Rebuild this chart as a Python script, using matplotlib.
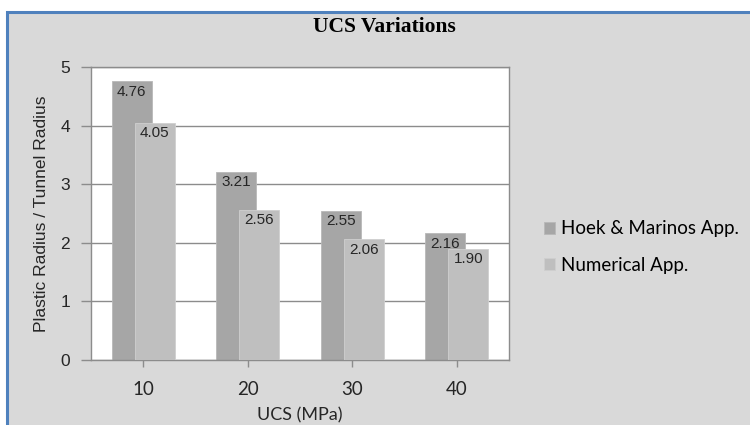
import matplotlib.pyplot as plt
import matplotlib.patches as patches
import numpy as np

categories = ['10', '20', '30', '40']
hoek_marinos = [4.76, 3.21, 2.55, 2.16]
numerical = [4.05, 2.56, 2.06, 1.90]
series_names = ['Hoek & Marinos App.', 'Numerical App.']
y_ticks = [0, 1, 2, 3, 4, 5]


def main():
    fig = plt.figure(figsize=(7.5, 4.25), dpi=100)
    fig.patch.set_facecolor('white')

    # grey chart area with blue frame
    W, H = 750.0, 425.0
    frame = patches.Rectangle((7 / W, -0.05), 1.1, 1 - 12 / H + 0.05,
                              transform=fig.transFigure, facecolor='#d9d9d9',
                              edgecolor='#4f81bd', linewidth=2.2, zorder=-5)
    fig.patches.append(frame)

    ax = fig.add_axes((91 / W, 65 / H, 418 / W, 293 / H))
    ax.set_zorder(2)
    ax.set_facecolor('white')

    x = np.arange(len(categories))
    width = 0.38
    off = 0.11
    dark = '#a6a6a6'
    light = '#bfbfbf'
    b1 = ax.bar(x - off, hoek_marinos, width, color=dark, edgecolor='#b8b8b8',
                linewidth=0.6, zorder=2, label=series_names[0])
    b2 = ax.bar(x + off, numerical, width, color=light, edgecolor='#cfcfcf',
                linewidth=0.6, zorder=3, label=series_names[1])

    for bars, vals in ((b1, hoek_marinos), (b2, numerical)):
        for r, v in zip(bars, vals):
            ax.text(r.get_x() + r.get_width() / 2, v - 0.06, '%.2f' % v,
                    ha='center', va='top', fontsize=11,
                    family='Liberation Sans', color='#262626', zorder=5)

    ax.set_xlim(-0.5, len(categories) - 0.5)
    ax.set_ylim(0, 5)
    ax.set_yticks(y_ticks)
    ax.set_yticklabels([str(t) for t in y_ticks], fontsize=12.5,
                       family='Liberation Sans', color='#262626')
    ax.set_xticks(x)
    ax.set_xticklabels(categories, fontsize=13.5, family='Lato',
                       color='#262626')
    ax.yaxis.grid(True, color='#8c8c8c', linewidth=1.0, zorder=1)
    ax.set_axisbelow(True)

    for s in ax.spines.values():
        s.set_color('#8c8c8c')
        s.set_linewidth(1.0)
    ax.tick_params(axis='y', length=7, width=1, color='#8c8c8c', pad=8)
    ax.tick_params(axis='x', length=5, width=1, color='#8c8c8c', pad=10)

    ax.set_ylabel('Plastic Radius / Tunnel Radius', fontsize=12.5,
                  family='Liberation Sans', color='#262626', labelpad=8)
    ax.set_xlabel('UCS (MPa)', fontsize=13, family='Lato', color='#262626',
                  labelpad=7)

    fig.text(384 / W, 1 - 27 / H, 'UCS Variations', ha='center', va='center',
             fontsize=15.5, family='Liberation Serif', weight='bold',
             color='black')

    ax.legend(loc='center left', bbox_to_anchor=(527 / W, 1 - 247 / H),
              bbox_transform=fig.transFigure, frameon=False,
              prop={'family': 'Lato', 'size': 13.5}, handlelength=0.6,
              handleheight=0.6, handletextpad=0.3, labelspacing=1.05)

    plt.savefig('out.png', dpi=100)


if __name__ == '__main__':
    main()
